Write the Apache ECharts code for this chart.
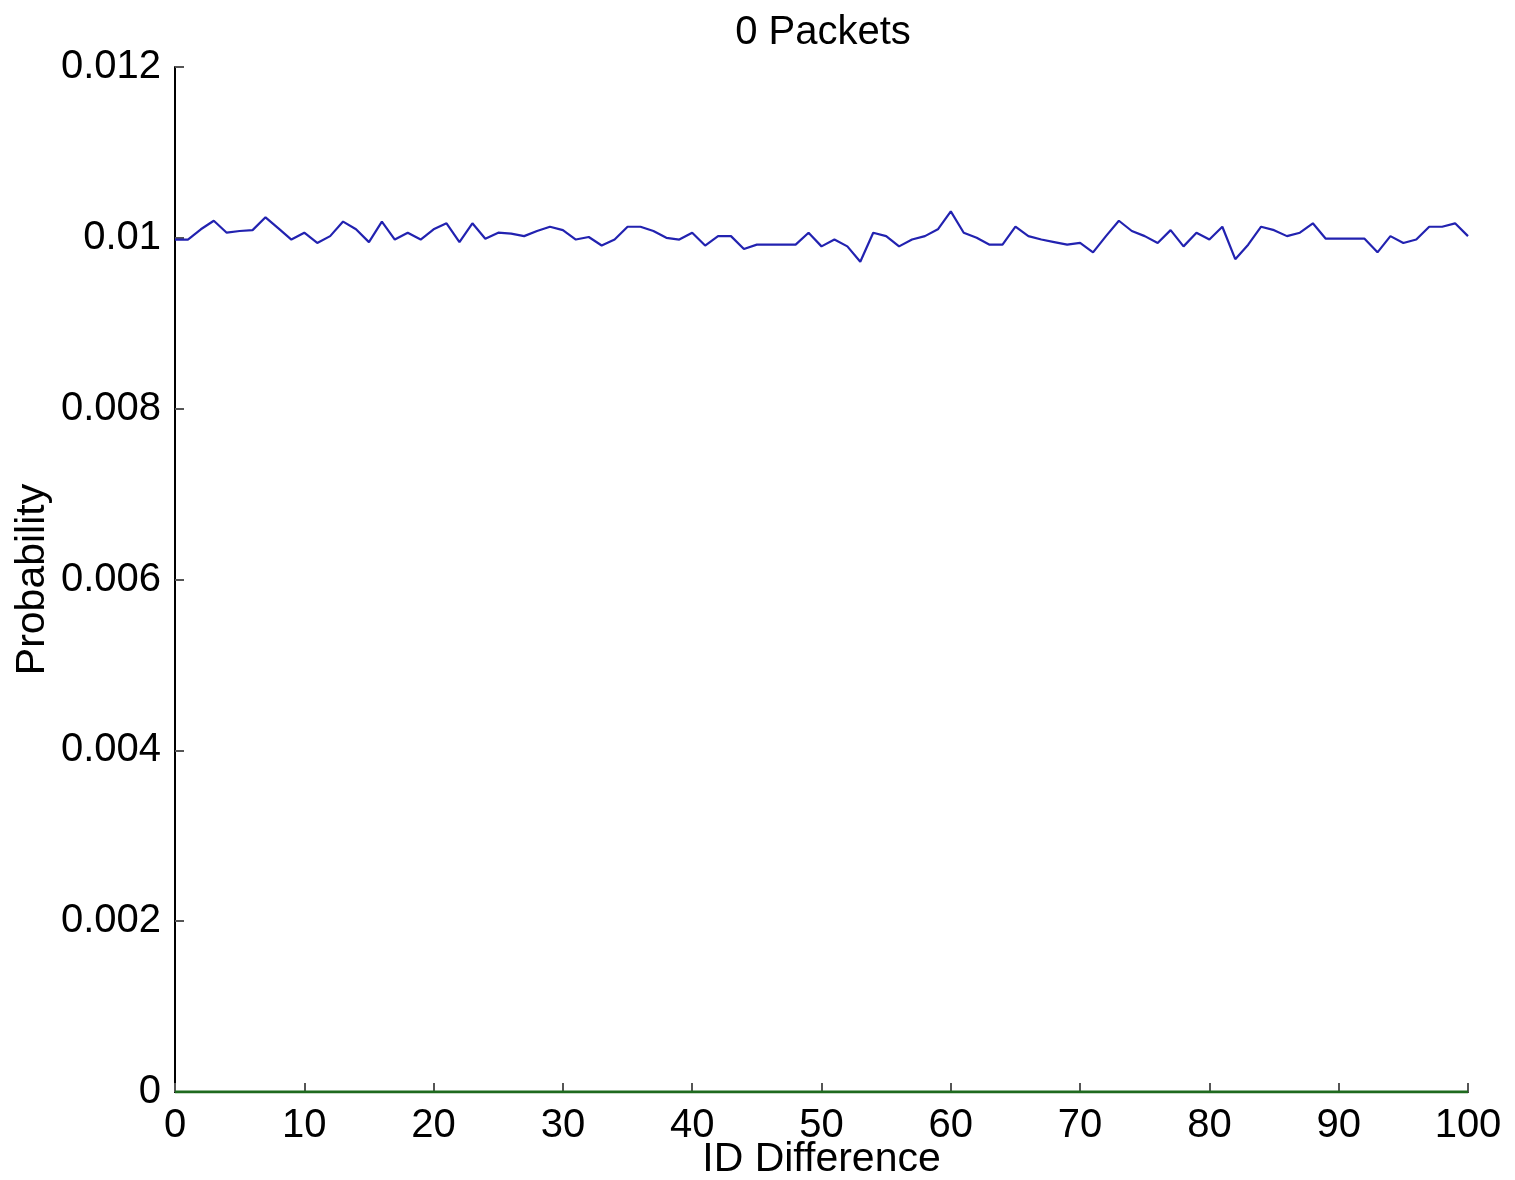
<!DOCTYPE html>
<html>
<head>
<meta charset="utf-8">
<script src="https://cdn.jsdelivr.net/npm/echarts@6/dist/echarts.min.js"></script>
<style>
  html, body { margin: 0; padding: 0; background: #fff; }
  #chart { width: 1515px; height: 1180px; }
</style>
</head>
<body>
<div id="chart"></div>
<script>
// ID difference 0..100
var idDiff = [
  0, 1, 2, 3, 4, 5, 6, 7, 8, 9,
  10, 11, 12, 13, 14, 15, 16, 17, 18, 19,
  20, 21, 22, 23, 24, 25, 26, 27, 28, 29,
  30, 31, 32, 33, 34, 35, 36, 37, 38, 39,
  40, 41, 42, 43, 44, 45, 46, 47, 48, 49,
  50, 51, 52, 53, 54, 55, 56, 57, 58, 59,
  60, 61, 62, 63, 64, 65, 66, 67, 68, 69,
  70, 71, 72, 73, 74, 75, 76, 77, 78, 79,
  80, 81, 82, 83, 84, 85, 86, 87, 88, 89,
  90, 91, 92, 93, 94, 95, 96, 97, 98, 99,
  100
];
// probability (blue)
var probability = [
  0.00998, 0.00998, 0.01010, 0.01020, 0.01006, 0.01008, 0.01009, 0.01024, 0.01011, 0.00998,
  0.01006, 0.00994, 0.01002, 0.01019, 0.01010, 0.00995, 0.01019, 0.00998, 0.01006, 0.00998,
  0.01010, 0.01017, 0.00995, 0.01017, 0.00999, 0.01006, 0.01005, 0.01002, 0.01008, 0.01013,
  0.01009, 0.00998, 0.01001, 0.00991, 0.00998, 0.01013, 0.01013, 0.01008, 0.01000, 0.00998,
  0.01006, 0.00991, 0.01002, 0.01002, 0.00987, 0.00992, 0.00992, 0.00992, 0.00992, 0.01006,
  0.00990, 0.00998, 0.00990, 0.00972, 0.01006, 0.01002, 0.00990, 0.00998, 0.01002, 0.01010,
  0.01031, 0.01006, 0.01000, 0.00992, 0.00992, 0.01013, 0.01002, 0.00998, 0.00995, 0.00992,
  0.00994, 0.00983, 0.01002, 0.01020, 0.01008, 0.01002, 0.00994, 0.01009, 0.00990, 0.01006,
  0.00998, 0.01013, 0.00975, 0.00992, 0.01013, 0.01009, 0.01002, 0.01006, 0.01017, 0.00999,
  0.00999, 0.00999, 0.00999, 0.00983, 0.01002, 0.00994, 0.00998, 0.01013, 0.01013, 0.01017,
  0.01002
];
// green baseline series (zero)
var baseX = [0, 100];
var baseY = [0, 0];

var xTicks = { min: 0, max: 100, interval: 10 };
var yTicks = { min: 0, max: 0.012, interval: 0.002 };

var fontName = 'Liberation Sans';
var fontSz = 40;

var blueData = idDiff.map(function (x, i) { return [x, probability[i]]; });
var greenData = baseX.map(function (x, i) { return [x, baseY[i]]; });

var chart = echarts.init(document.getElementById('chart'));
chart.setOption({
  backgroundColor: '#ffffff',
  animation: false,
  title: {
    text: '0 Packets',
    left: 818,
    textAlign: 'center',
    top: 8,
    textStyle: { fontFamily: fontName, fontSize: fontSz, fontWeight: 'normal', color: '#000' }
  },
  grid: {
    left: 175, right: 47, top: 67, bottom: 88,
    containLabel: false,
    outerBoundsMode: 'none'
  },
  xAxis: {
    type: 'value',
    min: xTicks.min,
    max: xTicks.max,
    interval: xTicks.interval,
    name: 'ID Difference',
    nameLocation: 'middle',
    nameGap: 47,
    nameMoveOverlap: false,
    nameTextStyle: { fontFamily: fontName, fontSize: 41, color: '#000' },
    axisLine: { onZero: false, lineStyle: { color: '#000', width: 2 } },
    axisTick: { inside: true, length: 9, lineStyle: { color: '#555', width: 2 } },
    axisLabel: { fontFamily: fontName, fontSize: fontSz, color: '#000', margin: 14 },
    splitLine: { show: false }
  },
  yAxis: {
    type: 'value',
    min: yTicks.min,
    max: yTicks.max,
    interval: yTicks.interval,
    name: 'Probability',
    nameLocation: 'middle',
    nameGap: 122,
    nameMoveOverlap: false,
    nameTextStyle: { fontFamily: fontName, fontSize: 41, color: '#000' },
    axisLine: { show: true, lineStyle: { color: '#000', width: 2 } },
    axisTick: { show: true, inside: true, length: 9, lineStyle: { color: '#555', width: 2 } },
    axisLabel: { fontFamily: fontName, fontSize: fontSz, color: '#000', margin: 14 },
    splitLine: { show: false }
  },
  series: [
    {
      name: 'baseline',
      type: 'line',
      data: greenData,
      symbol: 'none',
      lineStyle: { color: '#1f6a1f', width: 3 },
      z: 3
    },
    {
      name: 'probability',
      type: 'line',
      data: blueData,
      symbol: 'none',
      lineStyle: { color: '#2222b0', width: 2.2 },
      z: 4
    }
  ]
});
</script>
</body>
</html>
